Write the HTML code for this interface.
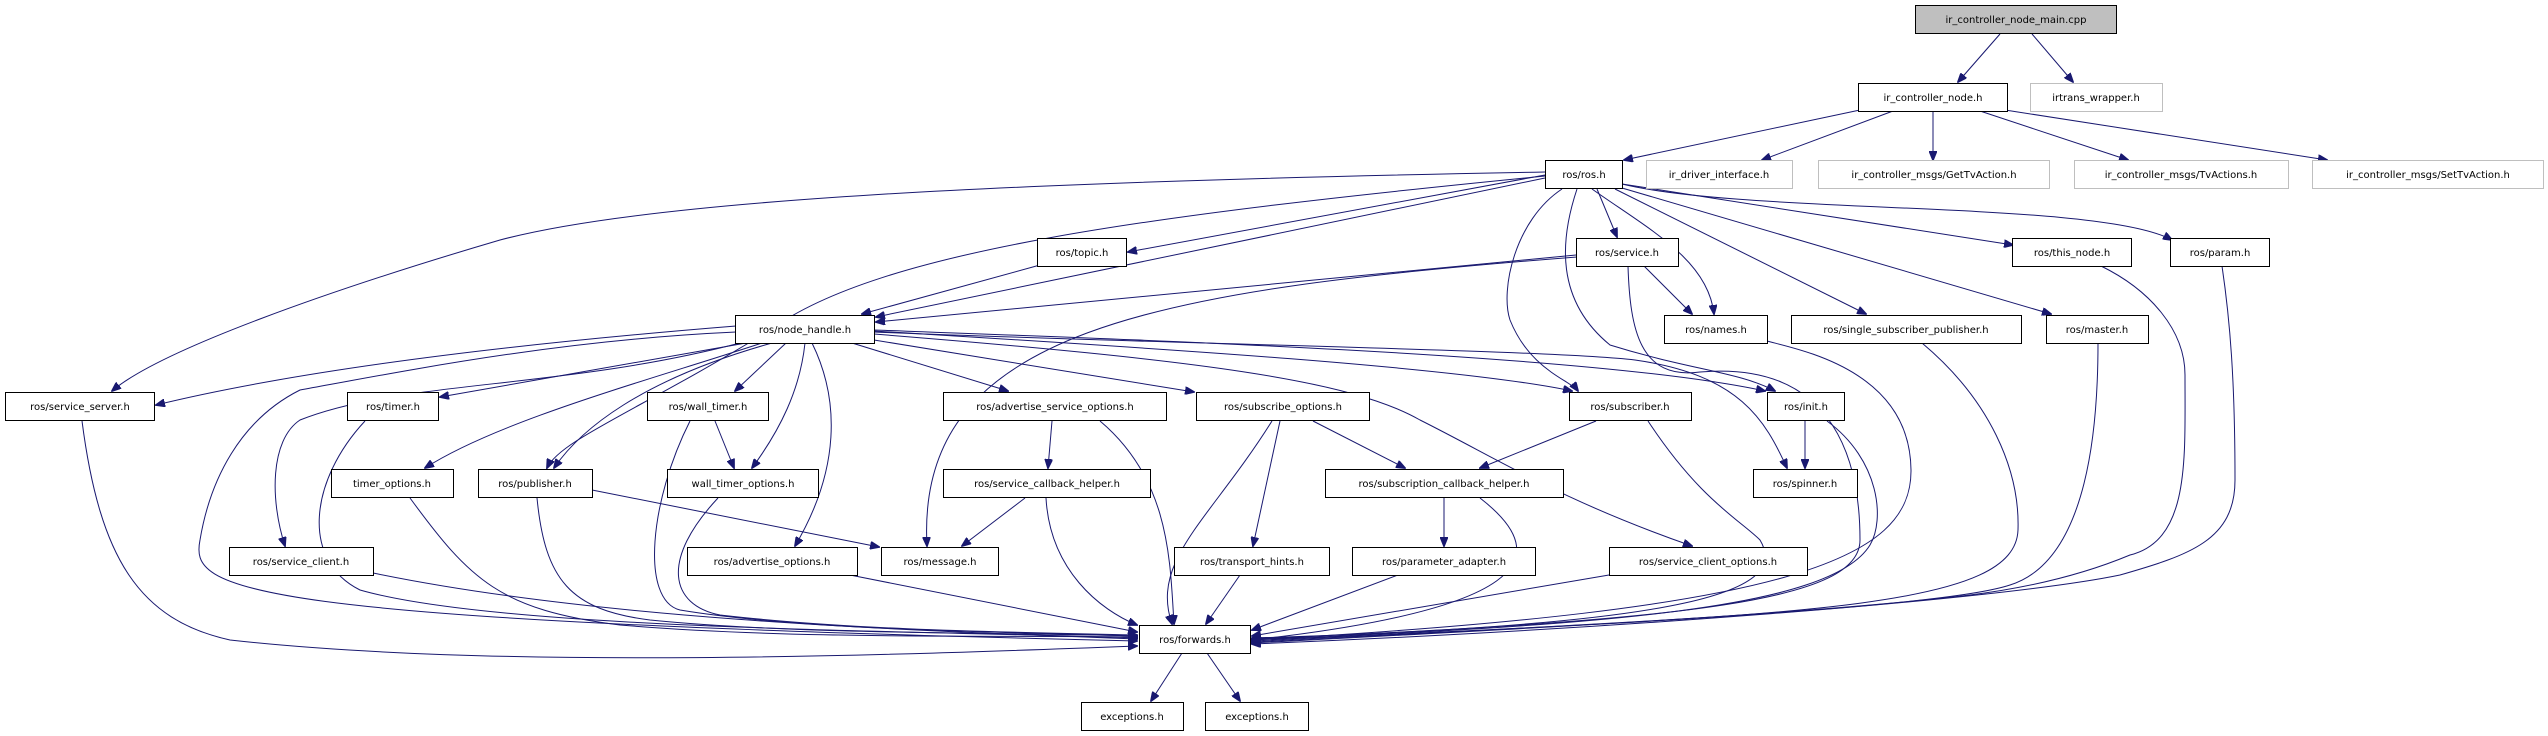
<!DOCTYPE html>
<html><head><meta charset="utf-8"><style>
html,body{margin:0;padding:0;background:#fff;}
svg{display:block;}
text{font-family:"DejaVu Sans","Liberation Sans",sans-serif;font-size:10px;fill:#000;text-anchor:middle;}
.n{fill:#fff;stroke:#000;stroke-width:1;}
.g{fill:#fff;stroke:#bfbfbf;stroke-width:1;}
.e{fill:none;stroke:#191970;stroke-width:1;marker-end:url(#a);}
</style></head><body>
<svg width="2548" height="736" viewBox="0 0 2548 736" xmlns="http://www.w3.org/2000/svg">
<defs><marker id="a" markerWidth="10" markerHeight="8" refX="9" refY="4" orient="auto" markerUnits="userSpaceOnUse"><path d="M0,0 L10,4 L0,8 Z" fill="#191970" stroke="#191970"/></marker></defs>
<g>
<path class="e" d="M2000,34 L1958,82"/>
<path class="e" d="M2032,34 L2073,82"/>
<path class="e" d="M1860,110 L1624,160"/>
<path class="e" d="M1893,111 L1762,160"/>
<path class="e" d="M1933,111 L1933,160"/>
<path class="e" d="M1980,111 L2128,160"/>
<path class="e" d="M2005,110 L2327,160"/>
<path class="e" d="M1545,175 L1128,252"/>
<path class="e" d="M1545,178 L876,317"/>
<path class="e" d="M1545,172 C1000,182 650,200 500,240 C330,290 160,350 112,391"/>
<path class="e" d="M1545,176 C1150,215 880,250 770,330 C640,410 560,440 547,468"/>
<path class="e" d="M1597,189 L1617,237"/>
<path class="e" d="M1592,189 C1650,230 1708,260 1714,314"/>
<path class="e" d="M1615,189 L1866,314"/>
<path class="e" d="M1622,188 L2051,314"/>
<path class="e" d="M1622,184 L2013,245"/>
<path class="e" d="M1622,184 C1750,215 2100,200 2172,240"/>
<path class="e" d="M1562,189 C1515,220 1500,290 1510,320 C1530,370 1570,380 1578,391"/>
<path class="e" d="M1577,189 C1560,240 1555,300 1610,345 C1690,370 1740,372 1775,391"/>
<path class="e" d="M1576,255 L876,322"/>
<path class="e" d="M1644,266 L1692,314"/>
<path class="e" d="M1577,257 C1150,290 915,330 927,546"/>
<path class="e" d="M1628,266 C1630,330 1640,380 1700,372 C1840,360 1860,470 1860,540 C1860,600 1700,620 1252,639"/>
<path class="e" d="M1040,265 L862,314"/>
<path class="e" d="M1767,341 C1800,350 1910,370 1911,470 C1912,560 1790,610 1252,640"/>
<path class="e" d="M1922,343 C1990,400 2020,470 2018,530 C2015,610 1800,615 1252,641"/>
<path class="e" d="M2098,343 C2098,420 2090,560 2010,585 C1950,605 1700,620 1252,642"/>
<path class="e" d="M2101,266 C2150,290 2185,330 2185,375 C2185,460 2190,540 2130,555 C2070,580 2010,590 1970,595 C1800,615 1500,630 1252,643"/>
<path class="e" d="M2222,266 C2230,320 2235,380 2235,480 C2235,540 2190,555 2120,575 C2000,600 1600,630 1252,644"/>
<path class="e" d="M736,326 C500,345 300,370 156,405"/>
<path class="e" d="M746,343 L440,397"/>
<path class="e" d="M762,343 C650,380 500,420 425,468"/>
<path class="e" d="M772,343 C640,380 580,430 554,468"/>
<path class="e" d="M786,343 L735,391"/>
<path class="e" d="M805,343 C800,390 780,430 752,468"/>
<path class="e" d="M812,343 C840,400 840,470 795,546"/>
<path class="e" d="M852,343 L1008,391"/>
<path class="e" d="M874,340 L1194,392"/>
<path class="e" d="M874,331 C1100,345 1450,365 1572,391"/>
<path class="e" d="M874,330 C1150,340 1600,355 1765,391"/>
<path class="e" d="M874,332 C1200,345 1550,350 1635,360 C1740,375 1765,420 1787,468"/>
<path class="e" d="M874,334 C1200,360 1350,380 1420,420 C1500,460 1560,500 1692,546"/>
<path class="e" d="M740,343 C560,390 400,380 300,420 C270,440 270,500 285,546"/>
<path class="e" d="M736,332 C560,340 410,370 300,390 C240,420 210,480 200,540 C190,590 230,620 1137,641"/>
<path class="e" d="M82,421 C100,560 140,620 230,640 C500,670 900,655 1137,646"/>
<path class="e" d="M373,573 C600,620 900,630 1137,639"/>
<path class="e" d="M365,421 C310,480 300,560 360,590 C500,630 900,630 1137,638"/>
<path class="e" d="M410,498 C470,580 500,610 620,625 C800,640 1000,635 1137,637"/>
<path class="e" d="M537,498 C545,580 570,610 650,620 C800,635 1000,632 1137,636"/>
<path class="e" d="M592,490 L879,547"/>
<path class="e" d="M690,421 C650,500 640,600 680,610 C800,630 1000,632 1137,636"/>
<path class="e" d="M718,498 C660,560 670,605 720,615 C850,630 1000,632 1137,635"/>
<path class="e" d="M715,421 L734,468"/>
<path class="e" d="M850,575 L1137,632"/>
<path class="e" d="M1052,421 L1048,468"/>
<path class="e" d="M1100,421 C1170,480 1170,560 1174,624"/>
<path class="e" d="M1025,498 L962,546"/>
<path class="e" d="M1046,498 C1050,570 1100,610 1137,625"/>
<path class="e" d="M1272,421 C1210,520 1150,560 1172,624"/>
<path class="e" d="M1280,421 L1253,546"/>
<path class="e" d="M1313,421 L1405,468"/>
<path class="e" d="M1240,575 L1206,624"/>
<path class="e" d="M1596,421 L1480,468"/>
<path class="e" d="M1648,421 C1700,500 1740,520 1760,540 C1790,590 1700,625 1252,638"/>
<path class="e" d="M1444,498 L1444,546"/>
<path class="e" d="M1480,498 C1560,560 1520,610 1252,640"/>
<path class="e" d="M1398,575 L1252,630"/>
<path class="e" d="M1609,575 L1252,636"/>
<path class="e" d="M1805,421 L1805,468"/>
<path class="e" d="M1827,421 C1880,460 1885,520 1870,545 C1830,610 1600,625 1252,640"/>
<path class="e" d="M1182,653 L1151,701"/>
<path class="e" d="M1207,653 L1240,701"/>
</g>
<g>
<rect x="1915.5" y="5.5" width="201" height="28" fill="#bfbfbf" stroke="#000"/><text x="2016" y="23">ir_controller_node_main.cpp</text>
<rect class="n" x="1858.5" y="83.5" width="149" height="28"/><text x="1933" y="101">ir_controller_node.h</text>
<rect class="g" x="2030.5" y="83.5" width="132" height="28"/><text x="2096" y="101">irtrans_wrapper.h</text>
<rect class="n" x="1545.5" y="160.5" width="77" height="28"/><text x="1584" y="178">ros/ros.h</text>
<rect class="g" x="1646.5" y="160.5" width="146" height="28"/><text x="1719" y="178">ir_driver_interface.h</text>
<rect class="g" x="1818.5" y="160.5" width="231" height="28"/><text x="1934" y="178">ir_controller_msgs/GetTvAction.h</text>
<rect class="g" x="2074.5" y="160.5" width="214" height="28"/><text x="2181" y="178">ir_controller_msgs/TvActions.h</text>
<rect class="g" x="2312.5" y="160.5" width="231" height="28"/><text x="2428" y="178">ir_controller_msgs/SetTvAction.h</text>
<rect class="n" x="1037.5" y="238.5" width="89" height="28"/><text x="1082" y="256">ros/topic.h</text>
<rect class="n" x="1576.5" y="238.5" width="102" height="28"/><text x="1627" y="256">ros/service.h</text>
<rect class="n" x="2012.5" y="238.5" width="119" height="28"/><text x="2072" y="256">ros/this_node.h</text>
<rect class="n" x="2170.5" y="238.5" width="99" height="28"/><text x="2220" y="256">ros/param.h</text>
<rect class="n" x="735.5" y="315.5" width="139" height="28"/><text x="805" y="333">ros/node_handle.h</text>
<rect class="n" x="1664.5" y="315.5" width="103" height="28"/><text x="1716" y="333">ros/names.h</text>
<rect class="n" x="1791.5" y="315.5" width="230" height="28"/><text x="1906" y="333">ros/single_subscriber_publisher.h</text>
<rect class="n" x="2046.5" y="315.5" width="102" height="28"/><text x="2097" y="333">ros/master.h</text>
<rect class="n" x="5.5" y="392.5" width="149" height="28"/><text x="80" y="410">ros/service_server.h</text>
<rect class="n" x="347.5" y="392.5" width="91" height="28"/><text x="393" y="410">ros/timer.h</text>
<rect class="n" x="647.5" y="392.5" width="121" height="28"/><text x="708" y="410">ros/wall_timer.h</text>
<rect class="n" x="943.5" y="392.5" width="223" height="28"/><text x="1055" y="410">ros/advertise_service_options.h</text>
<rect class="n" x="1196.5" y="392.5" width="173" height="28"/><text x="1283" y="410">ros/subscribe_options.h</text>
<rect class="n" x="1569.5" y="392.5" width="122" height="28"/><text x="1630" y="410">ros/subscriber.h</text>
<rect class="n" x="1767.5" y="392.5" width="77" height="28"/><text x="1806" y="410">ros/init.h</text>
<rect class="n" x="331.5" y="469.5" width="122" height="28"/><text x="392" y="487">timer_options.h</text>
<rect class="n" x="478.5" y="469.5" width="114" height="28"/><text x="535" y="487">ros/publisher.h</text>
<rect class="n" x="667.5" y="469.5" width="151" height="28"/><text x="743" y="487">wall_timer_options.h</text>
<rect class="n" x="943.5" y="469.5" width="207" height="28"/><text x="1047" y="487">ros/service_callback_helper.h</text>
<rect class="n" x="1325.5" y="469.5" width="238" height="28"/><text x="1444" y="487">ros/subscription_callback_helper.h</text>
<rect class="n" x="1753.5" y="469.5" width="104" height="28"/><text x="1805" y="487">ros/spinner.h</text>
<rect class="n" x="229.5" y="547.5" width="144" height="28"/><text x="301" y="565">ros/service_client.h</text>
<rect class="n" x="687.5" y="547.5" width="170" height="28"/><text x="772" y="565">ros/advertise_options.h</text>
<rect class="n" x="881.5" y="547.5" width="117" height="28"/><text x="940" y="565">ros/message.h</text>
<rect class="n" x="1174.5" y="547.5" width="155" height="28"/><text x="1252" y="565">ros/transport_hints.h</text>
<rect class="n" x="1352.5" y="547.5" width="183" height="28"/><text x="1444" y="565">ros/parameter_adapter.h</text>
<rect class="n" x="1609.5" y="547.5" width="198" height="28"/><text x="1708" y="565">ros/service_client_options.h</text>
<rect class="n" x="1139.5" y="625.5" width="111" height="28"/><text x="1195" y="643">ros/forwards.h</text>
<rect class="n" x="1081.5" y="702.5" width="102" height="28"/><text x="1132" y="720">exceptions.h</text>
<rect class="n" x="1205.5" y="702.5" width="103" height="28"/><text x="1257" y="720">exceptions.h</text>
</g>
</svg>
</body></html>
